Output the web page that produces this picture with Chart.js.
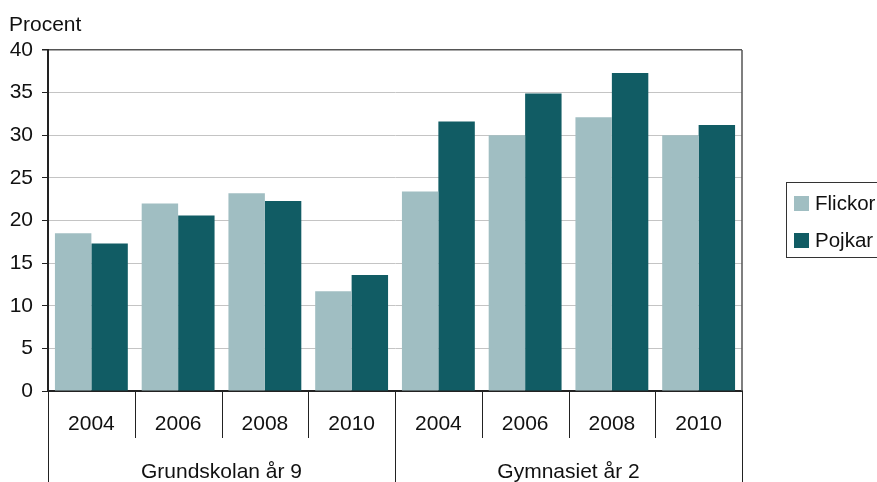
<!DOCTYPE html>
<html lang="sv">
<head>
<meta charset="utf-8">
<title>Procent flickor och pojkar</title>
<script src="https://cdn.jsdelivr.net/npm/chart.js@4.4.1/dist/chart.umd.min.js"></script>
<style>
  html, body { margin: 0; padding: 0; background: #fff; }
  #wrap { width: 877px; height: 482px; }
</style>
</head>
<body>
<div id="wrap"><canvas id="chart" width="877" height="482"></canvas></div>
<script>
const years = ['2004', '2006', '2008', '2010', '2004', '2006', '2008', '2010'];
const groups = ['Grundskolan år 9', 'Gymnasiet år 2'];
const groupSize = 4;
const flickor = [18.5, 22.0, 23.2, 11.7, 23.4, 30.0, 32.1, 30.0];
const pojkar = [17.3, 20.6, 22.3, 13.6, 31.6, 34.9, 37.3, 31.2];
const yMax = 40;
const yStep = 5;

const FONT = '"Liberation Sans", Arial, Helvetica, sans-serif';

// extra drawing: y title, frame, category dividers, group labels, legend
const decorations = {
  id: 'decorations',
  afterDraw(chart) {
    const { ctx, chartArea } = chart;
    const x = chart.scales.x;
    const n = years.length;
    const step = (x.getPixelForValue(1) - x.getPixelForValue(0));
    ctx.save();

    // title above the value axis
    ctx.fillStyle = '#111';
    ctx.font = '21px ' + FONT;
    ctx.textAlign = 'left';
    ctx.textBaseline = 'alphabetic';
    ctx.fillText('Procent', 9, 30.5);

    // right frame line
    ctx.strokeStyle = '#555';
    ctx.lineWidth = 1.5;
    ctx.beginPath();
    ctx.moveTo(chartArea.right, chartArea.top);
    ctx.lineTo(chartArea.right, chartArea.bottom);
    ctx.stroke();

    // category dividers under the axis
    ctx.strokeStyle = '#222';
    ctx.lineWidth = 1;
    for (let i = 0; i <= n; i++) {
      const px = Math.round(x.getPixelForValue(i) - step / 2) + 0.5;
      const long = i % groupSize === 0;
      ctx.beginPath();
      ctx.moveTo(px, chartArea.bottom);
      ctx.lineTo(px, long ? 482 : 438);
      ctx.stroke();
    }

    // group labels
    ctx.fillStyle = '#111';
    ctx.textAlign = 'center';
    groups.forEach((g, gi) => {
      const a = x.getPixelForValue(gi * groupSize);
      const b = x.getPixelForValue(gi * groupSize + groupSize - 1);
      ctx.fillText(g, (a + b) / 2, 478);
    });

    // legend box
    ctx.strokeStyle = '#333';
    ctx.lineWidth = 1;
    ctx.strokeRect(786.5, 182.5, 100, 75);
    ctx.textAlign = 'left';
    ctx.textBaseline = 'middle';
    ctx.font = '20.5px ' + FONT;
    chart.data.datasets.forEach((ds, i) => {
      const cy = 203 + i * 37;
      ctx.fillStyle = ds.backgroundColor;
      ctx.fillRect(794, cy - 7, 15, 15);
      ctx.fillStyle = '#111';
      ctx.fillText(ds.label, 815, cy + 1);
    });
    ctx.restore();
  }
};

new Chart(document.getElementById('chart'), {
  type: 'bar',
  data: {
    labels: years,
    datasets: [
      { label: 'Flickor', data: flickor, backgroundColor: '#a0bec2', borderWidth: 0 },
      { label: 'Pojkar', data: pojkar, backgroundColor: '#115c64', borderWidth: 0 }
    ]
  },
  options: {
    responsive: false,
    animation: false,
    devicePixelRatio: 1,
    layout: { padding: { top: 50, right: 135, left: 0, bottom: 0 } },
    datasets: {
      bar: { categoryPercentage: 0.84, barPercentage: 1.0 }
    },
    plugins: {
      legend: { display: false },
      tooltip: { enabled: false },
      title: { display: false }
    },
    scales: {
      x: {
        grid: { display: false, drawTicks: false },
        border: { display: true, color: '#222', width: 2 },
        ticks: {
          color: '#111',
          font: { family: FONT, size: 21 },
          padding: 21,
          maxRotation: 0,
          autoSkip: false
        },
        afterFit(scale) { scale.height = 91; }
      },
      y: {
        min: 0,
        max: yMax,
        ticks: {
          stepSize: yStep,
          color: '#111',
          font: { family: FONT, size: 21 },
          padding: 9
        },
        grid: {
          color: ctx => (ctx.tick && ctx.tick.value === yMax) ? '#555' : '#c4c4c4',
          lineWidth: ctx => (ctx.tick && ctx.tick.value === yMax) ? 1.5 : 1,
          tickColor: '#222',
          tickLength: 6,
          drawTicks: true
        },
        border: { display: true, color: '#222', width: 2 },
        afterFit(scale) { scale.width = 48; }
      }
    }
  },
  plugins: [decorations]
});
</script>
</body>
</html>
